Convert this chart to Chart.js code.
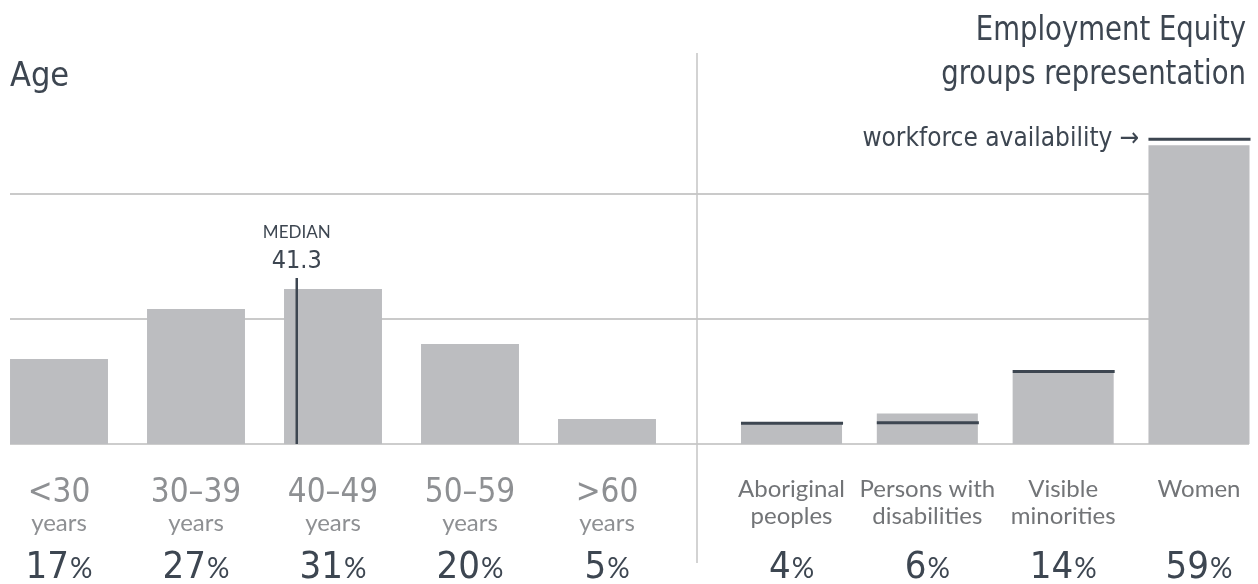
<!DOCTYPE html>
<html>
<head>
<meta charset="utf-8">
<script src="https://cdn.jsdelivr.net/npm/chart.js@4.4.1/dist/chart.umd.min.js"></script>
<style>
  html, body { margin: 0; padding: 0; background: #fff; overflow: hidden; }
  #wrap { position: relative; width: 1258px; height: 584px; overflow: hidden; }
  canvas { position: absolute; top: 0; }
  #age { left: -20px; }
  #ee { left: 0; }
</style>
</head>
<body>
<div id="wrap">
  <canvas id="age" width="1298" height="584"></canvas>
  <canvas id="ee" width="1278" height="584"></canvas>
</div>
<script>
// age breakdown
const ageLabels = ['<30', '30–39', '40–49', '50–59', '>60'];
const ageUnit = 'years';
const ageShares = [17, 27, 31, 20, 5];
const medianAge = 41.3;

// employment equity groups
const eeLabels = [['Aboriginal', 'peoples'], ['Persons with', 'disabilities'], ['Visible', 'minorities'], ['Women']];
const eeShares = [4, 6, 14, 59];
const eeAvailability = [4.1, 4.2, 14.3, 60.2];

const gridValues = [0, 25, 50];

const COND = '"Liberation Sans Narrow", "DejaVu Sans Condensed", "Liberation Sans", sans-serif';
const SANS = 'Lato, "Noto Sans", sans-serif';
const DARK = '#3d4651';
const BAR = '#bcbdc0';

function drawPercent(ctx, x, y, value) {
  ctx.save();
  ctx.textBaseline = 'alphabetic';
  ctx.textAlign = 'left';
  ctx.fillStyle = DARK;
  const num = String(value);
  ctx.font = '38px ' + COND;
  const wNum = ctx.measureText(num).width;
  ctx.font = '28px ' + SANS;
  const wPct = ctx.measureText('%').width;
  const start = x - (wNum + wPct + 1) / 2;
  ctx.font = '38px ' + COND;
  ctx.fillText(num, start, y);
  ctx.font = '28px ' + SANS;
  ctx.fillText('%', start + wNum + 1, y);
  ctx.restore();
}

// slightly narrowed heading text, anchored at its right edge
function drawNarrow(ctx, text, right, y, size, squeeze) {
  ctx.save();
  ctx.translate(right, y);
  ctx.scale(squeeze, 1);
  ctx.textAlign = 'right';
  ctx.font = size + 'px ' + COND;
  ctx.fillText(text, 0, 0);
  ctx.restore();
}

// left panel: grid, divider, median marker and labels
const agePlugin = {
  id: 'ageDecor',
  beforeDatasetsDraw(chart) {
    const ctx = chart.ctx;
    const y = chart.scales.y;
    const off = 20; // canvas sits 20px left of the page
    ctx.save();
    gridValues.forEach(v => {
      ctx.strokeStyle = v === 0 ? '#cdcdcd' : '#b9b9b9';
      ctx.lineWidth = v === 0 ? 2 : 1.6;
      ctx.beginPath();
      ctx.moveTo(10 + off, y.getPixelForValue(v));
      ctx.lineTo(1249 + off, y.getPixelForValue(v));
      ctx.stroke();
    });
    ctx.restore();
  },
  afterDatasetsDraw(chart) {
    const ctx = chart.ctx;
    const y = chart.scales.y;
    const meta = chart.getDatasetMeta(0);
    const off = 20;

    ctx.save();
    // panel divider
    ctx.strokeStyle = '#c4c4c4';
    ctx.lineWidth = 1.5;
    ctx.beginPath();
    ctx.moveTo(697 + off, 53);
    ctx.lineTo(697 + off, 563);
    ctx.stroke();

    // median line inside the 40–49 bar
    const bar = meta.data[2];
    const mx = bar.x - bar.width / 2 + (medianAge - 40) / 10 * bar.width;
    ctx.strokeStyle = DARK;
    ctx.lineWidth = 2.5;
    ctx.beginPath();
    ctx.moveTo(mx, bar.y - 11);
    ctx.lineTo(mx, y.getPixelForValue(0));
    ctx.stroke();

    ctx.fillStyle = DARK;
    ctx.textAlign = 'center';
    ctx.font = '17px ' + SANS;
    ctx.fillText('MEDIAN', mx, 238);
    ctx.font = '25px ' + COND;
    ctx.fillText(medianAge.toFixed(1), mx, 268);

    // title
    ctx.textAlign = 'left';
    ctx.font = '34px ' + COND;
    ctx.fillText('Age', 10 + off, 86);

    // category labels
    meta.data.forEach((el, i) => {
      ctx.textAlign = 'center';
      ctx.fillStyle = '#8e9093';
      ctx.font = '33px ' + COND;
      ctx.fillText(ageLabels[i], el.x, 502);
      ctx.font = '24px ' + SANS;
      ctx.fillText(ageUnit, el.x, 531);
      drawPercent(ctx, el.x, 578, ageShares[i]);
    });
    ctx.restore();
  }
};

// right panel: availability markers, titles and labels
const eePlugin = {
  id: 'eeDecor',
  afterDatasetsDraw(chart) {
    const ctx = chart.ctx;
    const y = chart.scales.y;
    const meta = chart.getDatasetMeta(0);
    ctx.save();

    meta.data.forEach((el, i) => {
      const yy = y.getPixelForValue(eeAvailability[i]);
      ctx.strokeStyle = DARK;
      ctx.lineWidth = 3;
      ctx.beginPath();
      ctx.moveTo(el.x - el.width / 2, yy);
      ctx.lineTo(el.x + el.width / 2 + 1, yy);
      ctx.stroke();

      ctx.textAlign = 'center';
      ctx.fillStyle = '#727477';
      ctx.font = '24px ' + SANS;
      eeLabels[i].forEach((line, k) => ctx.fillText(line, el.x, 497 + k * 27));
      drawPercent(ctx, el.x, 578, eeShares[i]);
    });

    ctx.fillStyle = DARK;
    drawNarrow(ctx, 'Employment Equity', 1246, 40, 34, 0.9);
    drawNarrow(ctx, 'groups representation', 1246, 84, 34, 0.9);

    const last = meta.data[meta.data.length - 1];
    ctx.textAlign = 'right';
    ctx.font = '26px ' + COND;
    ctx.fillText('workforce availability →', last.x - last.width / 2 - 9, 146);
    ctx.restore();
  }
};

const common = {
  responsive: false,
  animation: false,
  devicePixelRatio: 1,
  plugins: { legend: { display: false }, tooltip: { enabled: false } },
};

new Chart(document.getElementById('age'), {
  type: 'bar',
  data: {
    labels: ageLabels,
    datasets: [{ data: ageShares, backgroundColor: BAR, borderWidth: 0, barPercentage: 1, categoryPercentage: 0.715 }]
  },
  options: Object.assign({}, common, {
    layout: { padding: { left: 10.5, right: 602.5, top: 44, bottom: 140 } },
    scales: {
      x: { display: false },
      y: { display: false, min: 0, max: 80 }
    }
  }),
  plugins: [agePlugin]
});

new Chart(document.getElementById('ee'), {
  type: 'bar',
  data: {
    labels: eeLabels.map(l => l.join(' ')),
    datasets: [{ data: eeShares, backgroundColor: BAR, borderWidth: 0, barPercentage: 1, categoryPercentage: 0.744 }]
  },
  options: Object.assign({}, common, {
    layout: { padding: { left: 723.6, right: 11.1, top: 44, bottom: 140 } },
    scales: {
      x: { display: false },
      y: { display: false, min: 0, max: 79 }
    }
  }),
  plugins: [eePlugin]
});
</script>
</body>
</html>
